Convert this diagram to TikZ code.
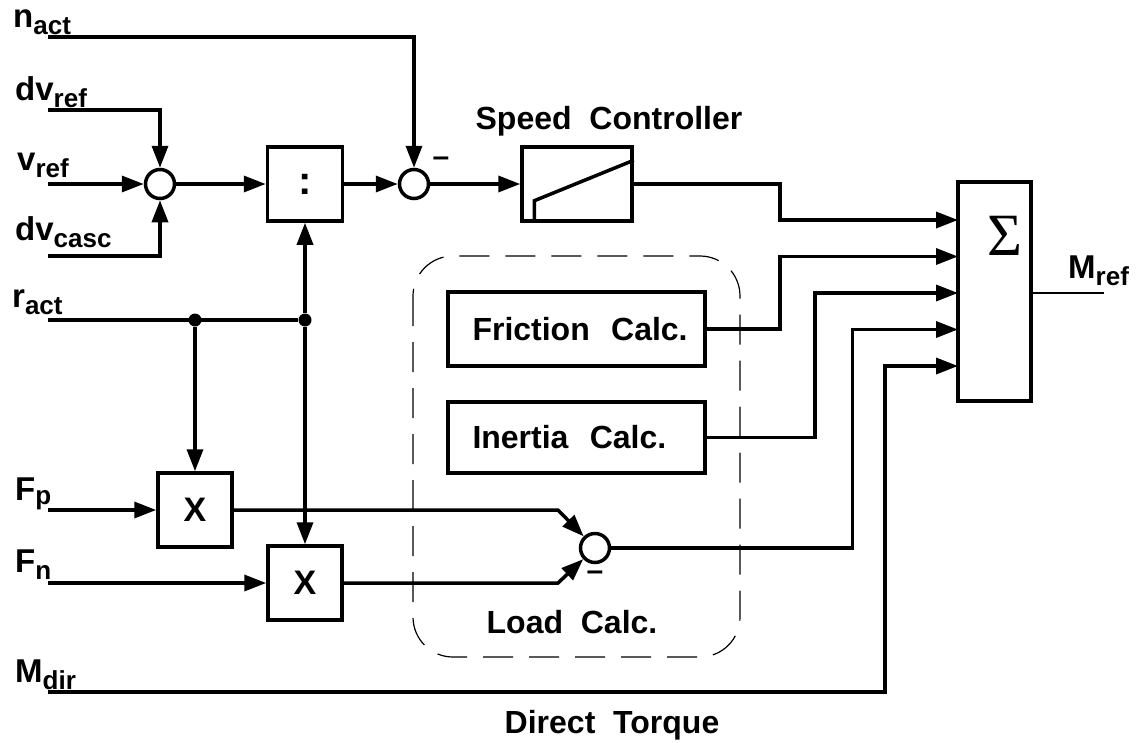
\documentclass[tikz,border=0pt]{standalone}
\usepackage{fontspec}
\setmainfont{Liberation Sans}
\newfontfamily\symfont{Liberation Serif}
\usetikzlibrary{arrows.meta,positioning,calc}

% signal name with subscript
\newcommand{\siglbl}[2]{#1\raisebox{-7pt}{\fontsize{26}{26}\selectfont #2}}

\tikzset{
  blk/.style={draw, line width=3.5pt, fill=white, inner sep=0pt, font=\fontsize{32}{34}\selectfont\bfseries},
  summer/.style={draw, circle, line width=3.5pt, fill=white, minimum size=29pt, inner sep=0pt},
  jdot/.style={circle, fill, minimum size=13pt, inner sep=0pt},
  sig/.style={line width=3.5pt, -{Triangle[length=22pt,width=16pt]}},
  wire/.style={line width=3.5pt},
  lbl/.style={font=\fontsize{33}{35}\selectfont\bfseries, inner sep=0pt, anchor=base west},
  title/.style={font=\fontsize{32}{34}\selectfont\bfseries, inner sep=0pt, anchor=base},
  minus/.style={font=\fontsize{30}{30}\selectfont\bfseries, inner sep=0pt},
  calcbox/.style={blk, minimum width=257pt, text width=244pt, align=left},
}

\begin{document}
\begin{tikzpicture}[x=1pt, y=-1pt]
    \useasboundingbox (0,0) rectangle (1140,742);

    % Load calculation group
    \draw[dashed, line width=1.2pt, dash pattern=on 30pt off 16pt, rounded corners=40pt]
        (413,256) rectangle (740,657);
    \node[title] (loadlbl) at (572,633) {Load\ \ Calc.};

    % Blocks
    \node[summer] (s1) at (160,184) {};
    \node[blk, minimum width=75pt, minimum height=74pt] (div) at (305,184)
        {\raisebox{-6pt}{\fontsize{40}{40}\selectfont :}};
    \node[summer] (s2) at (414,184) {};
    \node[blk, minimum width=110pt, minimum height=74pt] (pi) at (577,184) {};
    \draw[wire] ($(pi.south west)+(14,0)$) -- ++(0,-22) -- ($(pi.north east)+(0,15)$);
    \node[title] (pilbl) at (609,129) {Speed\ \ Controller};

    \node[blk, minimum width=73pt, minimum height=219pt] (sum) at (994.5,291.5) {};
    \node[inner sep=0pt, font=\symfont\fontsize{60}{60}\selectfont] (sigma) at (1005,236) {Σ};

    \node[calcbox, minimum height=74pt] (fric) at (576.5,329) {\hspace*{18pt}Friction\ \ Calc.};
    \node[calcbox, minimum height=71pt] (inert) at (576.5,437.5) {\hspace*{18pt}Inertia\ \ Calc.};

    \node[blk, minimum size=74pt] (mp) at (195,510) {\fontsize{34}{34}\selectfont X};
    \node[blk, minimum size=74pt] (mn) at (305,583) {\fontsize{34}{34}\selectfont X};
    \node[summer] (sl) at (595,548) {};

    \node[minus] (m2) at (441,162) {--};
    \node[minus] (ml) at (595,576) {--};

    % Input signals
    \node[lbl] (lnact) at (13,27) {\siglbl{n}{act}};
    \node[lbl] (ldvref) at (15,100) {\siglbl{dv}{ref}};
    \node[lbl] (lvref) at (17,170) {\siglbl{v}{ref}};
    \node[lbl] (ldvcasc) at (15,240) {\siglbl{dv}{casc}};
    \node[lbl] (lract) at (12,307) {\siglbl{r}{act}};
    \node[lbl] (lfp) at (15,500) {F\raisebox{-4pt}{\fontsize{26}{26}\selectfont p}};
    \node[lbl] (lfn) at (15,572) {\siglbl{F}{n}};
    \node[lbl] (lmdir) at (15,682) {\siglbl{M}{dir}};
    \node[lbl] (lmref) at (1068,278) {\siglbl{M}{ref}};
    \node[title] (dirlbl) at (612,733) {Direct\ \ Torque};

    \coordinate (nact) at (48,37);
    \coordinate (dvref) at (48,110);
    \coordinate (vref) at (48,184);
    \coordinate (dvcasc) at (48,256);
    \coordinate (ract) at (48,320);
    \coordinate (fp) at (48,510);
    \coordinate (fn) at (48,583);
    \coordinate (mdir) at (48,692);
    \coordinate (mref) at (1104,293);
    \foreach \i in {1,...,5}
        \coordinate (in\i) at (958,{220+36.5*(\i-1)});

    % Junctions on r_act
    \node[jdot] (j1) at (195,320) {};
    \node[jdot] (j2) at (305,320) {};

    % Connections
    \draw[sig] (nact) -| (s2);
    \draw[sig] (dvref) -| (s1);
    \draw[sig] (vref) -- (s1);
    \draw[sig] (dvcasc) -| (s1);
    \draw[sig] (s1) -- (div);
    \draw[sig] (div) -- (s2);
    \draw[sig] (s2) -- (pi);

    \draw[wire] (ract) -- (j2);
    \draw[sig] (j1) -- (mp);
    \draw[sig] (j2) -- (div);
    \draw[sig] (j2) -- (mn);
    \draw[sig] (fp) -- (mp);
    \draw[sig] (fn) -- (mn);

    \draw[sig] (mp.east) -- (558,510) -- (sl);
    \draw[sig] (mn.east) -- (558,583) -- (sl);

    \draw[sig] (pi.east) -- ++(146,0) |- (in1);
    \draw[sig] (fric.east) -- ++(73,0) |- (in2);
    \draw[sig] (inert.east) -- ++(108,0) |- (in3);
    \draw[sig] (sl.east) -- ++(241,0) |- (in4);
    \draw[sig] (mdir) -- ++(837,0) |- (in5);
    \draw[wire, line width=2.5pt] (sum.east |- in3) -- (mref);
\end{tikzpicture}
\end{document}
